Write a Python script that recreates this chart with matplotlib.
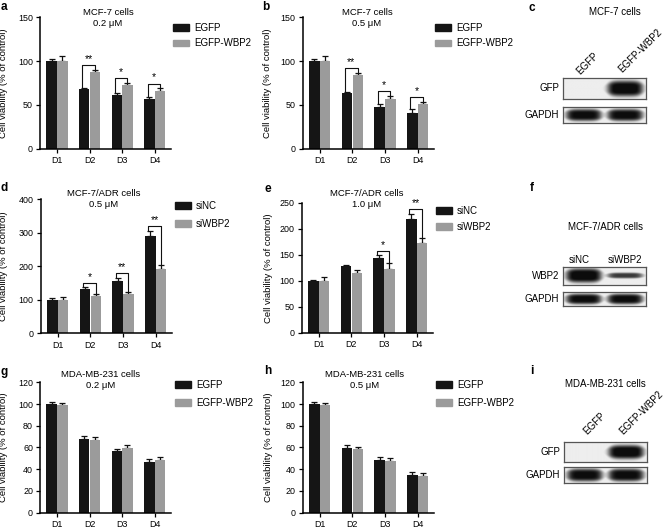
import numpy as np
import matplotlib
matplotlib.use('Agg')
import matplotlib.pyplot as plt
from matplotlib.patches import Patch

plt.rcParams['font.family'] = ['Liberation Sans', 'DejaVu Sans']

# ---- data ----
days = ['D1', 'D2', 'D3', 'D4']

a_egfp = [100, 68, 61, 57]
a_egfp_err = [2.3, 1.2, 3.0, 2.3]
a_wbp2 = [100, 87.5, 73, 66]
a_wbp2_err = [5.4, 2.7, 2.3, 3.0]
a_sig = ['', '**', '*', '*']

b_egfp = [100, 63.5, 47.5, 40.7]
b_egfp_err = [2.3, 1.5, 3.0, 4.5]
b_wbp2 = [100, 84.5, 57, 50.8]
b_wbp2_err = [5.3, 2.3, 3.4, 2.7]
b_sig = ['', '**', '*', '*']

d_sinc = [100, 132, 157, 290]
d_sinc_err = [5, 5, 9, 15]
d_siwbp2 = [100, 111, 118, 193]
d_siwbp2_err = [7, 5, 4, 11]
d_sig = ['', '*', '**', '**']

e_sinc = [99, 127.5, 144, 218.6]
e_sinc_err = [2.5, 3, 5, 10]
e_siwbp2 = [99, 115, 122, 173]
e_siwbp2_err = [8, 6, 13, 10]
e_sig = ['', '', '*', '**']

g_egfp = [100, 68, 56.5, 47]
g_egfp_err = [1.8, 2.7, 2.0, 2.5]
g_wbp2 = [99, 67, 59, 48.5]
g_wbp2_err = [2.0, 2.3, 3.0, 3.0]

h_egfp = [100, 59.5, 48, 34.5]
h_egfp_err = [1.8, 2.5, 3.0, 2.5]
h_wbp2 = [99, 58.3, 47.3, 34]
h_wbp2_err = [2.0, 2.5, 2.7, 2.0]

# blot band intensities (0 = none, 1 = saturated), one per lane
c_gfp = [0.0, 1.0]
c_gapdh = [0.95, 0.95]
f_wbp2 = [1.0, 0.75]
f_gapdh = [0.95, 0.95]
i_gfp = [0.0, 1.0]
i_gapdh = [0.95, 0.95]

W, H = 668, 529
BLACK = '#151515'
GREY = '#9b9b9b'

fig = plt.figure(figsize=(W / 100, H / 100), dpi=100)


def rect(l, t, r, b):
    return [l / W, 1 - b / H, (r - l) / W, (b - t) / H]


def ftext(x, y, s, **kw):
    fig.text(x / W, 1 - y / H, s, **kw)


def bar_panel(box, ymax, step, s1, e1, s2, e2, names, title, title_xy,
              leg_xy, leg_space, ylab_x, sig=None):
    ax = fig.add_axes(rect(*box))
    x = np.arange(len(days))
    w = 0.32
    ax.bar(x - w / 2 - 0.005, s1, w, color=BLACK, zorder=2)
    ax.bar(x + w / 2 + 0.005, s2, w, color=GREY, zorder=2)
    ax.errorbar(x - w / 2 - 0.005, s1, yerr=[np.zeros(4), e1], fmt='none',
                ecolor='#111111', elinewidth=0.9, capsize=2.4, capthick=0.9, zorder=1)
    ax.errorbar(x + w / 2 + 0.005, s2, yerr=[np.zeros(4), e2], fmt='none',
                ecolor='#111111', elinewidth=0.9, capsize=2.4, capthick=0.9, zorder=1)
    if sig:
        for i, s in enumerate(sig):
            if not s:
                continue
            t1 = s1[i] + e1[i]
            t2 = s2[i] + e2[i]
            top = max(t1, t2) + 0.035 * ymax
            x1, x2 = i - w / 2 - 0.06, i + w / 2
            ax.plot([x1, x1, x2, x2], [t1, top, top, t2], color='#111111', lw=0.8)
            ax.text((x1 + x2) / 2, top + 0.008 * ymax, s, ha='center', va='bottom',
                    fontsize=7.5)
    ax.set_xlim(-0.52, 3.5)
    ax.set_ylim(0, ymax)
    ax.set_yticks(np.arange(0, ymax + 1, step))
    ax.set_xticks(x)
    ax.set_xticklabels(days)
    ax.tick_params(labelsize=6.4, length=3, width=0.9, pad=2)
    ax.tick_params(axis='x', pad=2.5)
    for sp in ['top', 'right']:
        ax.spines[sp].set_visible(False)
    for sp in ['left', 'bottom']:
        ax.spines[sp].set_linewidth(1.1)
    ax.set_ylabel('Cell viability (% of control)', fontsize=6.8)
    ax.yaxis.set_label_coords((ylab_x - box[0]) / (box[2] - box[0]), 0.5)
    ftext(title_xy[0], title_xy[1], title, ha='center', va='center',
          fontsize=6.8, linespacing=1.35)
    handles = [Patch(color=BLACK, label=names[0]), Patch(color=GREY, label=names[1])]
    ax.legend(handles=handles, loc='upper left',
              bbox_to_anchor=(leg_xy[0] / W, 1 - leg_xy[1] / H),
              bbox_transform=fig.transFigure, frameon=False, fontsize=7,
              handlelength=1.6, handleheight=0.7, handletextpad=0.55,
              labelspacing=leg_space, borderpad=0, borderaxespad=0)
    return ax


def blot(box, lanes, thick, label, label_y):
    ax = fig.add_axes(rect(*box))
    nx, ny = 240, 60
    X, Y = np.meshgrid(np.linspace(0, 1, nx), np.linspace(0, 1, ny))
    img = np.full_like(X, 0.07)
    n = len(lanes)
    for k, inten in enumerate(lanes):
        c = (k + 0.5) / n
        xprof = np.exp(-(np.abs(X - c) / 0.215) ** 6)
        hw = thick[k] / 2 * (1 - 0.35 * (np.abs(X - c) / 0.22) ** 4)
        hw = np.clip(hw, 0.02, None)
        yprof = np.exp(-(np.abs(Y - 0.5) / hw) ** 4)
        img += inten * xprof * yprof
    ax.imshow(np.clip(img, 0, 1), cmap='gray_r', vmin=0, vmax=1.05, aspect='auto',
              extent=(0, 1, 0, 1), interpolation='bilinear')
    ax.set_xticks([])
    ax.set_yticks([])
    for sp in ax.spines.values():
        sp.set_color('#555555')
        sp.set_linewidth(0.9)
    ftext(box[0] - 4, label_y, label, ha='right', va='center', fontsize=7)


# ---- row 1 ----
bar_panel((40, 17.3, 171, 148.5), 150, 50, a_egfp, a_egfp_err, a_wbp2, a_wbp2_err,
          ['EGFP', 'EGFP-WBP2'], 'MCF-7 cells\n0.2 \u03bcM', (108, 18), (173, 23),
          0.55, 8, a_sig)
bar_panel((302.7, 17.3, 434, 148.5), 150, 50, b_egfp, b_egfp_err, b_wbp2, b_wbp2_err,
          ['EGFP', 'EGFP-WBP2'], 'MCF-7 cells\n0.5 \u03bcM', (367, 18), (435, 23),
          0.55, 272, b_sig)

ftext(615, 12, 'MCF-7 cells', ha='center', va='center', fontsize=7)
fig.text(580 / W, 1 - 75 / H, 'EGFP', rotation=45, rotation_mode='anchor',
         ha='left', va='baseline', fontsize=7)
fig.text(622 / W, 1 - 73 / H, 'EGFP-WBP2', rotation=45, rotation_mode='anchor',
         ha='left', va='baseline', fontsize=7)
blot((563, 78, 646, 99), c_gfp, [0.0, 0.75], 'GFP', 88.5)
blot((563, 107, 646, 123), c_gapdh, [0.75, 0.75], 'GAPDH', 115)

# ---- row 2 ----
bar_panel((40.7, 199.3, 172, 333.3), 400, 100, d_sinc, d_sinc_err, d_siwbp2, d_siwbp2_err,
          ['siNC', 'siWBP2'], 'MCF-7/ADR cells\n0.5 \u03bcM', (104, 199), (175, 201),
          0.8, 8.5, d_sig)
bar_panel((301.7, 202.7, 433, 332.7), 250, 50, e_sinc, e_sinc_err, e_siwbp2, e_siwbp2_err,
          ['siNC', 'siWBP2'], 'MCF-7/ADR cells\n1.0 \u03bcM', (367, 199), (436, 206),
          0.6, 273, e_sig)

ftext(605, 227, 'MCF-7/ADR cells', ha='center', va='center', fontsize=7)
ftext(579, 260, 'siNC', ha='center', va='center', fontsize=7)
ftext(625, 260, 'siWBP2', ha='center', va='center', fontsize=7)
blot((563, 267, 646, 285), f_wbp2, [0.75, 0.3], 'WBP2', 276)
blot((563, 292, 646, 306), f_gapdh, [0.75, 0.75], 'GAPDH', 299)

# ---- row 3 ----
bar_panel((40, 382.3, 171, 512.5), 120, 20, g_egfp, g_egfp_err, g_wbp2, g_wbp2_err,
          ['EGFP', 'EGFP-WBP2'], 'MDA-MB-231 cells\n0.2 \u03bcM', (101, 380), (175, 380),
          0.8, 8)
bar_panel((302.7, 382.3, 434, 512.5), 120, 20, h_egfp, h_egfp_err, h_wbp2, h_wbp2_err,
          ['EGFP', 'EGFP-WBP2'], 'MDA-MB-231 cells\n0.5 \u03bcM', (365, 380), (436, 380),
          0.8, 273)

ftext(605, 384, 'MDA-MB-231 cells', ha='center', va='center', fontsize=7)
fig.text(587 / W, 1 - 435 / H, 'EGFP', rotation=45, rotation_mode='anchor',
         ha='left', va='baseline', fontsize=7)
fig.text(623 / W, 1 - 435 / H, 'EGFP-WBP2', rotation=45, rotation_mode='anchor',
         ha='left', va='baseline', fontsize=7)
blot((564, 442, 647, 462), i_gfp, [0.0, 0.7], 'GFP', 452)
blot((564, 467, 647, 483), i_gapdh, [0.8, 0.8], 'GAPDH', 475)

# ---- panel letters ----
for lab, x, y in [('a', 4, 7), ('b', 266, 7), ('c', 532, 8),
                  ('d', 4, 188), ('e', 268, 189), ('f', 532, 188),
                  ('g', 4, 372), ('h', 268, 371), ('i', 532, 371)]:
    ftext(x, y, lab, ha='center', va='center', fontsize=8.5, fontweight='bold')

fig.savefig('out.png', dpi=100)
